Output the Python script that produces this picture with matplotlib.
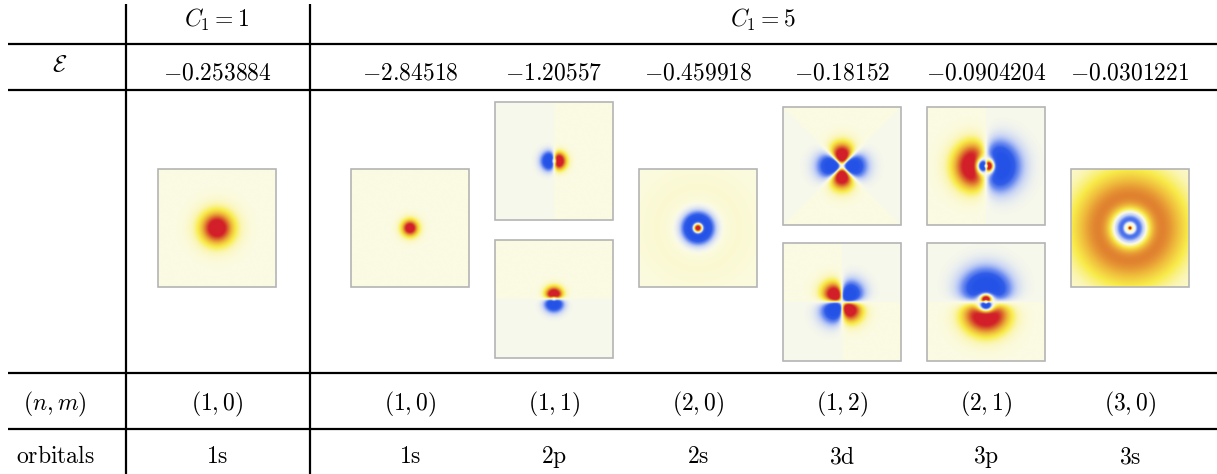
import numpy as np
import matplotlib
matplotlib.use("Agg")
import matplotlib.pyplot as plt
from matplotlib.colors import LinearSegmentedColormap
from matplotlib.patches import Rectangle

plt.rcParams['mathtext.fontset'] = 'cm'
plt.rcParams['font.family'] = 'DejaVu Serif'

# table contents
groups = [r'$C_1 = 1$', r'$C_1 = 5$']
energies = ['-0.253884', '-2.84518', '-1.20557', '-0.459918', '-0.18152', '-0.0904204', '-0.0301221']
quantum = [(1, 0), (1, 0), (1, 1), (2, 0), (1, 2), (2, 1), (3, 0)]
orbitals = ['1s', '1s', '2p', '2s', '3d', '3p', '3s']

# orbital panels: phase of each panel in the cell (deg),
# radial lobes (amplitude, start radius, peak radius, sharpness), radii in panel half widths
phases = [[0], [0], [0, 90], [0], [180, -90], [0, 90], [0]]
lobes = [
    [(1.57, -0.16, 0.0, 2)],
    [(1.57, -0.08, 0.0, 2)],
    [(1.5, 0.0, 0.093, 3)],
    [(2.0, -0.03, 0.0, 2), (-1.0, 0.04, 0.16, 4), (0.04, 0.3, 0.7, 2)],
    [(1.6, 0.0, 0.17, 3)],
    [(1.6, 0.0, 0.06, 6), (-1.3, 0.11, 0.29, 2.2)],
    [(2.5, -0.015, 0.0, 2), (-0.5, 0.06, 0.15, 5), (0.62, 0.25, 0.55, 1.6)],
]

W, H = 1217, 474
col_x = [217, 410, 554, 698, 842, 986, 1130]
single_y = 228
pair_y = {2: (161, 299), 4: (166, 302), 5: (166, 302)}
half = 59

stops = [(-1, '#2452e6'), (-0.6, '#2f5ce8'), (-0.35, '#6f8ef0'), (-0.15, '#c4d1f5'),
         (-0.002, '#f8f9ec'), (0.002, '#fbfbe4'), (0.1, '#fbf6b8'), (0.25, '#f8eb4a'),
         (0.45, '#eeb53a'), (0.65, '#de7a2e'), (0.85, '#d5402a'), (1, '#d21f29')]
cmap = LinearSegmentedColormap.from_list('orb', [((v + 1) / 2, c) for v, c in stops])


def lobe(r, r0, rp, p):
    x = np.clip((r - r0) / (rp - r0), 0, None)
    return x ** p * np.exp(p * (1 - x))


def field(m, phase, terms, n=240):
    u = np.linspace(-1, 1, n)
    X, Y = np.meshgrid(u, -u)
    r = np.hypot(X, Y)
    th = np.arctan2(Y, X)
    rad = sum(a * lobe(r, r0, rp, p) for a, r0, rp, p in terms)
    ang = np.cos(m * th - np.radians(phase)) if m else 1.0
    return np.clip(rad * ang, -1, 1)


fig = plt.figure(figsize=(W / 100, H / 100), dpi=100)
ax = fig.add_axes([0, 0, 1, 1])
ax.axis('off')

for i, cx in enumerate(col_x):
    m = quantum[i][1]
    ys = pair_y.get(i, (single_y,))
    for cy, ph in zip(ys, phases[i]):
        ax.imshow(field(m, ph, lobes[i]), cmap=cmap, vmin=-1, vmax=1,
                  extent=(cx - half, cx + half, cy + half, cy - half),
                  interpolation='bilinear', aspect='auto')
        ax.add_patch(Rectangle((cx - half, cy - half), 2 * half, 2 * half,
                               fill=False, ec='#b4b4b4', lw=1.2))

ax.hlines([44, 90, 373, 429], 8, W, color='black', lw=1.6)
ax.vlines([126, 310], 4, H, color='black', lw=1.6)

fs = 17
ax.text(col_x[0], 27, groups[0], ha='center', va='baseline', fontsize=fs)
ax.text(763, 27, groups[1], ha='center', va='baseline', fontsize=fs)
ax.text(60, 71, r'$\mathcal{E}$', ha='center', va='baseline', fontsize=fs)
ax.text(55, 410, r'$(n,m)$', ha='center', va='baseline', fontsize=fs)
ax.text(55, 463, r'$\mathrm{orbitals}$', ha='center', va='baseline', fontsize=fs)
for i, cx in enumerate(col_x):
    ax.text(cx, 79, '$%s$' % energies[i], ha='center', va='baseline', fontsize=fs)
    ax.text(cx, 410, '$(%d,%d)$' % quantum[i], ha='center', va='baseline', fontsize=fs)
    ax.text(cx, 463, r'$\mathrm{%s}$' % orbitals[i], ha='center', va='baseline', fontsize=fs)

ax.set_xlim(0, W)
ax.set_ylim(H, 0)
fig.savefig('out.png', dpi=100)
